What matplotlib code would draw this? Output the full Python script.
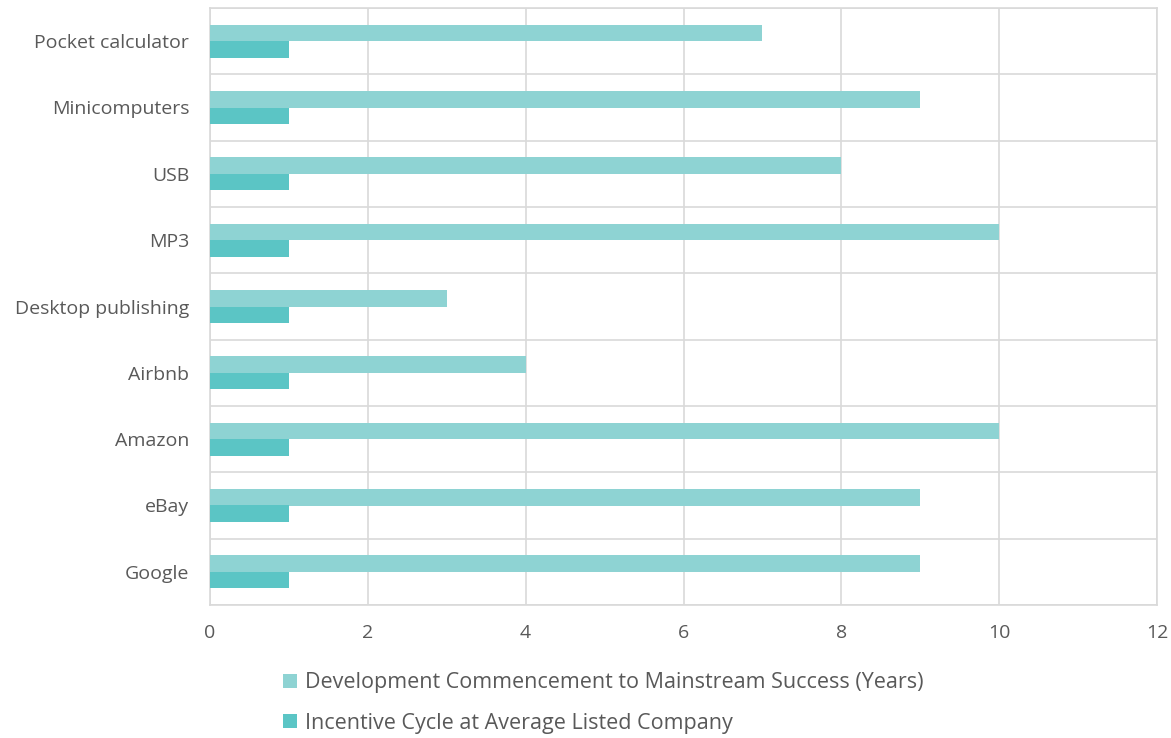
import numpy as np
import matplotlib
matplotlib.use("Agg")
from matplotlib import pyplot as plt

categories = ["Pocket calculator", "Minicomputers", "USB", "MP3", "Desktop publishing",
              "Airbnb", "Amazon", "eBay", "Google"]
development_years = [7, 9, 8, 10, 3, 4, 10, 9, 9]
incentive_cycle = [1, 1, 1, 1, 1, 1, 1, 1, 1]
series_labels = ["Development Commencement to Mainstream Success (Years)",
                 "Incentive Cycle at Average Listed Company"]
x_ticks = [0, 2, 4, 6, 8, 10, 12]

dev_color = "#8ED3D3"
inc_color = "#5BC5C5"
grid_color = "#D9D9D9"
text_color = "#595959"

plt.rcParams["font.family"] = ["Open Sans", "DejaVu Sans"]

fig = plt.figure(figsize=(11.71, 7.38), dpi=100)
ax = fig.add_axes([210 / 1171, 1 - 605 / 738, (1157 - 210) / 1171, (605 - 8) / 738])

y = np.arange(len(categories))[::-1]
h = 0.25
ax.barh(y + h / 2, development_years, height=h, color=dev_color, label=series_labels[0], zorder=3)
ax.barh(y - h / 2, incentive_cycle, height=h, color=inc_color, label=series_labels[1], zorder=3)

ax.set_xlim(0, 12)
ax.set_ylim(-0.5, len(categories) - 0.5)
ax.set_xticks(x_ticks)
ax.set_yticks(y)
ax.set_yticklabels(categories)
ax.set_yticks(np.arange(-0.5, len(categories), 1), minor=True)
ax.grid(axis="x", color=grid_color, linewidth=1.2, zorder=0)
ax.grid(axis="y", which="minor", color=grid_color, linewidth=1.2, zorder=0)
ax.tick_params(axis="both", which="both", length=0, colors=text_color, labelsize=14)
ax.tick_params(axis="x", pad=14)
ax.tick_params(axis="y", pad=15)
for s in ax.spines.values():
    s.set_color(grid_color)
    s.set_linewidth(1.2)

fig.legend(loc="upper left", bbox_to_anchor=(264 / 1171, 1 - 653 / 738), frameon=False,
           fontsize=15.5, labelcolor=text_color, handlelength=0.65, handleheight=0.65,
           handletextpad=0.35, labelspacing=0.9)

fig.savefig("out.png", dpi=100)
